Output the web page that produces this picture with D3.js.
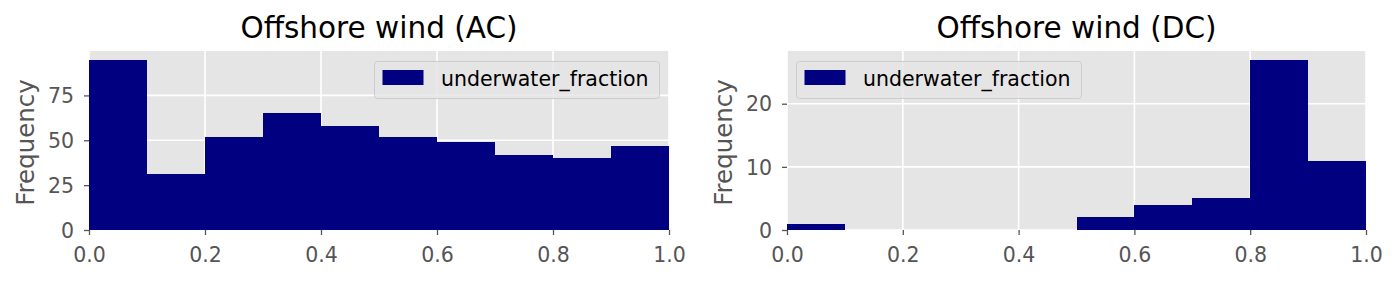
<!DOCTYPE html>
<html>
<head>
<meta charset="utf-8">
<script src="https://cdn.jsdelivr.net/npm/d3@7"></script>
<style>
  html, body { margin: 0; padding: 0; background: #ffffff; }
  svg { display: block; }
  text { font-family: "DejaVu Sans", sans-serif; }
</style>
</head>
<body>
<svg id="chart" width="1398" height="281"></svg>
<script>
// ---- Data ----
const binEdges = [0.0, 0.1, 0.2, 0.3, 0.4, 0.5, 0.6, 0.7, 0.8, 0.9, 1.0];
const acCounts = [95, 31, 52, 65, 58, 52, 49, 42, 40, 47];
const dcCounts = [1, 0, 0, 0, 0, 2, 4, 5, 27, 11];
const xTickValues = [0.0, 0.2, 0.4, 0.6, 0.8, 1.0];
const acYTicks = [0, 25, 50, 75];
const dcYTicks = [0, 10, 20];
const titles = ["Offshore wind (AC)", "Offshore wind (DC)"];
const seriesName = "underwater_fraction";
const yLabel = "Frequency";

const panels = [
  { title: titles[0], counts: acCounts, yTicks: acYTicks, left: 89, right: 669, legend: "right" },
  { title: titles[1], counts: dcCounts, yTicks: dcYTicks, left: 787, right: 1366, legend: "left" }
];

const svg = d3.select("#chart");
const plotTop = 51, plotBottom = 230;
const barColor = "#000080";
const textGray = "#555555";

panels.forEach(p => {
  const bins = p.counts.map((c, i) => ({ x0: binEdges[i], x1: binEdges[i + 1], n: c }));
  const x = d3.scaleLinear().domain([0, 1]).range([p.left, p.right]);
  const y = d3.scaleLinear().domain([0, d3.max(p.counts) * 1.05]).range([plotBottom, plotTop]);
  const g = svg.append("g");

  // background
  g.append("rect").attr("x", p.left).attr("y", plotTop)
    .attr("width", p.right - p.left).attr("height", plotBottom - plotTop)
    .attr("fill", "#E5E5E5");

  // grid
  g.selectAll(".vg").data(xTickValues).enter().append("line")
    .attr("x1", d => x(d)).attr("x2", d => x(d))
    .attr("y1", plotTop).attr("y2", plotBottom)
    .attr("stroke", "#ffffff").attr("stroke-width", 1.6);
  g.selectAll(".hg").data(p.yTicks).enter().append("line")
    .attr("x1", p.left).attr("x2", p.right)
    .attr("y1", d => y(d)).attr("y2", d => y(d))
    .attr("stroke", "#ffffff").attr("stroke-width", 1.6);

  // bars
  g.selectAll(".bar").data(bins.filter(b => b.n > 0)).enter().append("rect")
    .attr("x", d => x(d.x0)).attr("width", d => x(d.x1) - x(d.x0))
    .attr("y", d => y(d.n)).attr("height", d => y(0) - y(d.n))
    .attr("fill", barColor).attr("shape-rendering", "crispEdges");

  // x axis
  const xAxis = d3.axisBottom(x).tickValues(xTickValues).tickFormat(d3.format(".1f"))
    .tickSize(5).tickPadding(12);
  const xg = g.append("g").attr("transform", `translate(0,${plotBottom})`).call(xAxis);
  xg.select(".domain").remove();
  xg.selectAll(".tick line").attr("stroke", textGray).attr("stroke-width", 1.3);
  xg.selectAll(".tick text").attr("fill", textGray).attr("font-size", "20.5px")
    .attr("font-family", "DejaVu Sans");

  // y axis
  const yAxis = d3.axisLeft(y).tickValues(p.yTicks).tickFormat(d3.format("d"))
    .tickSize(5).tickPadding(10);
  const yg = g.append("g").attr("transform", `translate(${p.left},0)`).call(yAxis);
  yg.select(".domain").remove();
  yg.selectAll(".tick line").attr("stroke", textGray).attr("stroke-width", 1.3);
  yg.selectAll(".tick text").attr("fill", textGray).attr("font-size", "20.5px")
    .attr("font-family", "DejaVu Sans").attr("dy", "0.35em");

  // y label
  g.append("text")
    .attr("transform", `translate(${p.left - 55},${(plotTop + plotBottom) / 2 + 2}) rotate(-90)`)
    .attr("text-anchor", "middle")
    .attr("fill", textGray).attr("font-size", "24.5px")
    .text(yLabel);

  // title
  g.append("text")
    .attr("x", (p.left + p.right) / 2).attr("y", 38)
    .attr("text-anchor", "middle")
    .attr("fill", "#000000").attr("font-size", "29.5px")
    .text(p.title);

  // legend
  const lw = 285, lh = 37;
  const lx = p.legend === "right" ? p.right - 10 - lw : p.left + 9;
  const ly = 61;
  const lg = g.append("g").attr("transform", `translate(${lx},${ly})`);
  lg.append("rect").attr("x", 0.5).attr("y", 0.5).attr("width", lw).attr("height", lh)
    .attr("rx", 3).attr("ry", 3)
    .attr("fill", "#E5E5E5").attr("fill-opacity", 0.8)
    .attr("stroke", "#CCCCCC").attr("stroke-width", 1);
  lg.append("rect").attr("x", 8.5).attr("y", 9).attr("width", 41).attr("height", 15)
    .attr("fill", barColor);
  lg.append("text").attr("x", 67).attr("y", 25)
    .attr("fill", "#000000").attr("font-size", "20.5px")
    .text(seriesName);
});
</script>
</body>
</html>
